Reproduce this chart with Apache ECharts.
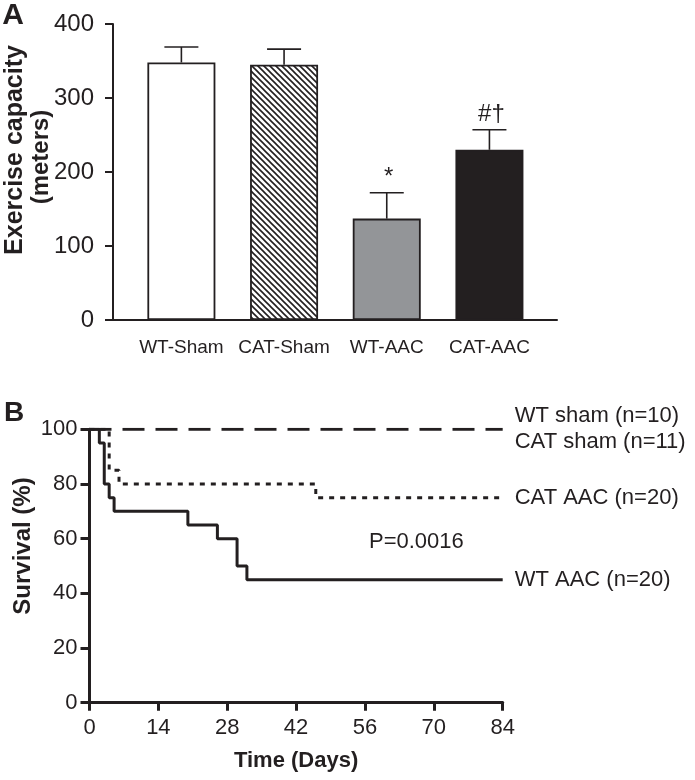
<!DOCTYPE html>
<html>
<head>
<meta charset="utf-8">
<script src="https://cdn.jsdelivr.net/npm/echarts@6/dist/echarts.min.js"></script>
<style>
html,body{margin:0;padding:0;background:#fff;}
#chart{width:695px;height:780px;}
</style>
</head>
<body>
<div id="chart"></div>
<script>
// ---- Panel A data ----
const groups = ['WT-Sham', 'CAT-Sham', 'WT-AAC', 'CAT-AAC'];
const exerciseMean = [348, 345, 137, 230];
const exerciseSEM = [21, 21, 35, 27];
const sigMarks = ['', '', '*', '#\u2020'];
const yTicksA = [0, 100, 200, 300, 400];

// ---- Panel B data (Kaplan-Meier steps: [day, survival %]) ----
const dayTicks = [0, 14, 28, 42, 56, 70, 84];
const shamSurvival = [[0, 100], [84, 100]];
const catAacSurvival = [[0, 100], [4, 85], [6, 80], [46, 75], [84, 75]];
const wtAacSurvival = [[0, 100], [2, 95], [3, 80], [4, 75], [5, 70], [20, 65], [26, 60], [30, 50], [32, 45], [84, 45]];
const shamLabel = 'WT sham (n=10)\nCAT sham (n=11)';
const catAacLabel = 'CAT AAC (n=20)';
const wtAacLabel = 'WT AAC (n=20)';
const pValueText = 'P=0.0016';

const INK = '#231f20';
const FONT = '"Liberation Sans", Arial, Helvetica, sans-serif';

// hatch pattern
function makeHatch() {
  const s = 6;
  const c = document.createElement('canvas');
  c.width = s; c.height = s;
  const ctx = c.getContext('2d');
  ctx.fillStyle = '#fff';
  ctx.fillRect(0, 0, s, s);
  ctx.strokeStyle = INK;
  ctx.lineWidth = 1.6;
  ctx.beginPath();
  ctx.moveTo(-1, -1); ctx.lineTo(s + 1, s + 1);
  ctx.moveTo(-1, s - 1); ctx.lineTo(1, s + 1);
  ctx.moveTo(s - 1, -1); ctx.lineTo(s + 1, 1);
  ctx.stroke();
  return c;
}
const barFills = ['#ffffff', { image: makeHatch(), repeat: 'repeat' }, '#939598', INK];

const barData = groups.map((g, i) => ({
  value: [i, exerciseMean[i]],
  itemStyle: { color: barFills[i], borderColor: INK, borderWidth: 1.8 }
}));
const errData = groups.map((g, i) => [i, exerciseMean[i], exerciseMean[i] + exerciseSEM[i]]);

const chart = echarts.init(document.getElementById('chart'), null, { renderer: 'canvas' });

chart.setOption({
  animation: false,
  backgroundColor: '#fff',
  textStyle: { fontFamily: FONT, color: INK },
  grid: [
    { left: 113, top: 24, width: 444, height: 296 },
    { left: 89.5, top: 429.3, width: 413.2, height: 273.4 }
  ],
  xAxis: [
    {
      gridIndex: 0, type: 'value', min: -0.666, max: 3.658,
      splitLine: { show: false },
      axisLine: { show: true, onZero: false, lineStyle: { color: INK, width: 2 } },
      axisTick: { show: false },
      axisLabel: {
        customValues: [0, 1, 2, 3],
        formatter: v => groups[Math.round(v)] || '',
        fontSize: 19, color: INK, margin: 18, fontFamily: FONT
      }
    },
    {
      gridIndex: 1, type: 'value', min: 0, max: 84, interval: 14,
      splitLine: { show: false },
      axisLine: { show: true, onZero: false, lineStyle: { color: INK, width: 3 } },
      axisTick: { show: true, length: 8, lineStyle: { color: INK, width: 3 } },
      axisLabel: { fontSize: 22, color: INK, margin: 14, fontFamily: FONT },
      name: 'Time (Days)', nameLocation: 'middle', nameGap: 47,
      nameTextStyle: { fontSize: 22, fontWeight: 'bold', color: INK, fontFamily: FONT }
    }
  ],
  yAxis: [
    {
      gridIndex: 0, type: 'value', min: 0, max: 400, interval: 100,
      splitLine: { show: false },
      axisLine: { show: true, onZero: false, lineStyle: { color: INK, width: 2 } },
      axisTick: { show: true, length: 8, lineStyle: { color: INK, width: 2 } },
      axisLabel: { fontSize: 24, color: INK, margin: 19, fontFamily: FONT }
    },
    {
      gridIndex: 1, type: 'value', min: 0, max: 100, interval: 20,
      splitLine: { show: false },
      axisLine: { show: true, onZero: false, lineStyle: { color: INK, width: 3 } },
      axisTick: { show: true, length: 9, lineStyle: { color: INK, width: 3 } },
      axisLabel: { fontSize: 22, color: INK, margin: 12, fontFamily: FONT }
    }
  ],
  series: [
    {
      type: 'bar', xAxisIndex: 0, yAxisIndex: 0, barWidth: 68,
      data: barData
    },
    {
      type: 'custom', xAxisIndex: 0, yAxisIndex: 0,
      data: errData,
      renderItem: function (params, api) {
        const x = api.value(0), m = api.value(1), t = api.value(2);
        const p0 = api.coord([x, m]);
        const p1 = api.coord([x, t]);
        const st = { stroke: INK, lineWidth: 1.6 };
        const children = [
          { type: 'line', shape: { x1: p0[0], y1: p0[1], x2: p1[0], y2: p1[1] }, style: st },
          { type: 'line', shape: { x1: p1[0] - 17, y1: p1[1], x2: p1[0] + 17, y2: p1[1] }, style: st }
        ];
        const mark = sigMarks[params.dataIndex];
        if (mark) {
          children.push({
            type: 'text',
            style: {
              text: mark, x: p1[0] + 2, y: p1[1] - 3,
              fill: INK, fontSize: 24, fontFamily: FONT,
              align: 'center', verticalAlign: 'bottom'
            }
          });
        }
        return { type: 'group', children: children };
      }
    },
    {
      type: 'line', xAxisIndex: 1, yAxisIndex: 1, step: 'end', symbol: 'none',
      data: wtAacSurvival,
      lineStyle: { color: INK, width: 3 },
      endLabel: { show: true, formatter: wtAacLabel, distance: 12, fontSize: 22, color: INK, fontFamily: FONT }
    },
    {
      type: 'line', xAxisIndex: 1, yAxisIndex: 1, step: 'end', symbol: 'none',
      data: catAacSurvival,
      lineStyle: { color: INK, width: 3, type: [5, 6] },
      endLabel: { show: true, formatter: catAacLabel, distance: 12, fontSize: 22, color: INK, fontFamily: FONT }
    },
    {
      type: 'line', xAxisIndex: 1, yAxisIndex: 1, step: 'end', symbol: 'none',
      data: shamSurvival,
      lineStyle: { color: INK, width: 3, type: [22, 11] },
      endLabel: { show: true, formatter: shamLabel, distance: 12, fontSize: 22, lineHeight: 26, color: INK, fontFamily: FONT }
    }
  ],
  graphic: [
    { type: 'text', x: 13, y: 16, style: { text: 'A', font: 'bold 30px ' + FONT, fill: INK, textAlign: 'center', textVerticalAlign: 'middle' } },
    { type: 'text', x: 14, y: 413, style: { text: 'B', font: 'bold 28px ' + FONT, fill: INK, textAlign: 'center', textVerticalAlign: 'middle' } },
    { type: 'text', x: 15, y: 150, rotation: Math.PI / 2, style: { text: 'Exercise capacity', font: 'bold 25px ' + FONT, fill: INK, textAlign: 'center', textVerticalAlign: 'middle' } },
    { type: 'text', x: 41, y: 157, rotation: Math.PI / 2, style: { text: '(meters)', font: 'bold 24px ' + FONT, fill: INK, textAlign: 'center', textVerticalAlign: 'middle' } },
    { type: 'text', x: 23, y: 546, rotation: Math.PI / 2, style: { text: 'Survival (%)', font: 'bold 24px ' + FONT, fill: INK, textAlign: 'center', textVerticalAlign: 'middle' } },
    { type: 'text', x: 369, y: 542, style: { text: pValueText, font: '22px ' + FONT, fill: INK, textAlign: 'left', textVerticalAlign: 'middle' } }
  ]
});
</script>
</body>
</html>
